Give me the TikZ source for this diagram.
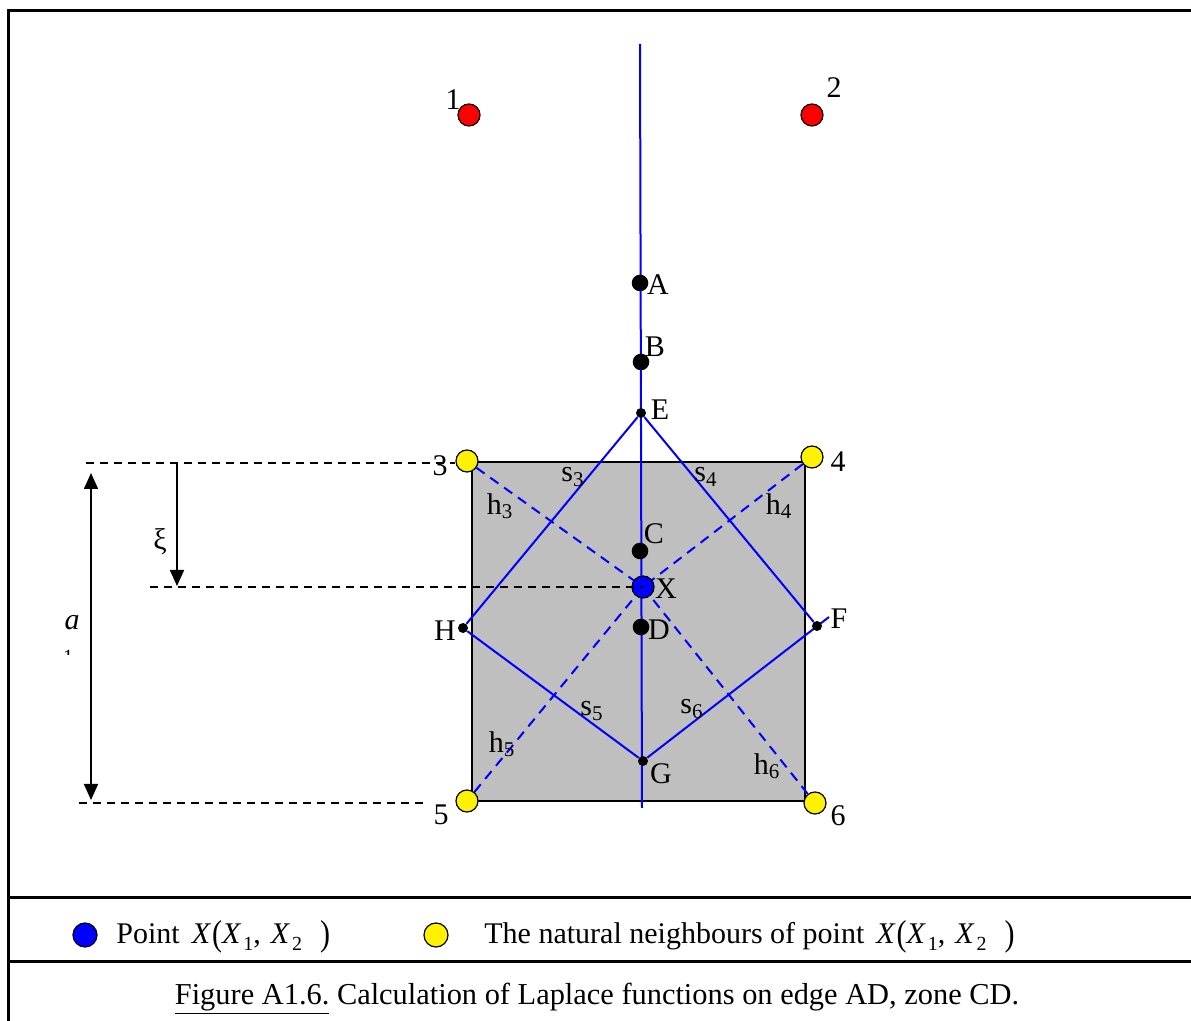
\documentclass[tikz,border=0pt]{standalone}
\usepackage{fontspec}
\setmainfont{Liberation Serif}
\usetikzlibrary{arrows.meta,backgrounds}

\newcommand{\subidx}[1]{\kern1pt\raisebox{-0.5ex}{\fontsize{10}{12}\selectfont #1}}
\newcommand{\tallp}[1]{\raisebox{-0.15ex}{\scalebox{1}[1.2]{#1}}}
\newcommand{\ptX}{\kern6pt\textit{X}\kern0.5pt\tallp{(}\textit{X}\subidx{1},\kern5pt\textit{X}\subidx{2}\kern9pt\tallp{)}}

\begin{document}
\begin{tikzpicture}[x=0.5pt, y=-0.5pt, font=\fontsize{15}{18}\selectfont,
  dot/.style={circle, draw=black, line width=0.6pt, inner sep=0pt, minimum size=11pt},
  reddot/.style={dot, fill=red},
  yellowdot/.style={dot, fill=yellow},
  bluedot/.style={dot, fill=blue},
  bigdot/.style={circle, fill=black, inner sep=0pt, minimum size=8.3pt},
  smalldot/.style={circle, fill=black, inner sep=0pt, minimum size=5pt},
  edge/.style={blue, line width=1pt},
  diag/.style={blue, line width=1pt, dash pattern=on 5pt off 3.5pt},
  guide/.style={line width=0.7pt, dash pattern=on 4pt off 3pt},
  dim/.style={line width=0.8pt},
  lbl/.style={inner sep=0pt}]

  \useasboundingbox (0,0) rectangle (1191,1021);

  % --- frame ---
  \draw[line width=1.5pt] (8,1021) -- (8,11) -- (1191,11);
  \draw[line width=1.5pt] (8,898) -- (1191,898);
  \draw[line width=1.5pt] (8,962) -- (1191,962);

  % --- points ---
  \node[reddot] (n1) at (469,115) {};
  \node[reddot] (n2) at (812,115) {};
  \node[yellowdot] (n3) at (467,461) {};
  \node[yellowdot] (n4) at (812,457) {};
  \node[yellowdot] (n5) at (467,801) {};
  \node[yellowdot] (n6) at (815,803) {};

  \node[bigdot] (A) at (640,283) {};
  \node[bigdot] (B) at (641,362) {};
  \node[smalldot] (E) at (641,413) {};
  \node[bigdot] (C) at (640,551) {};
  \node[bluedot] (X) at (643,587) {};
  \node[bigdot] (D) at (641,627) {};
  \node[smalldot] (H) at (463,628) {};
  \node[smalldot] (F) at (817,626) {};
  \node[smalldot] (G) at (643,761) {};

  \coordinate (top) at (640,44);
  \coordinate (bot) at (642,808);
  \coordinate (Fend) at (829,617);

  % --- labels ---
  \node[lbl] (l1) at (453,100) {1};
  \node[lbl] (l2) at (834,88) {2};
  \node[lbl] (l3) at (440,466) {3};
  \node[lbl] (l4) at (838,462) {4};
  \node[lbl] (l5) at (441,815) {5};
  \node[lbl] (l6) at (838,816) {6};
  \node[lbl] (lA) at (658,285) {A};
  \node[lbl] (lB) at (655,347) {B};
  \node[lbl] (lE) at (660,410) {E};
  \node[lbl] (lC) at (654,534) {C};
  \node[lbl] (lX) at (666,589) {X};
  \node[lbl] (lD) at (659,630) {D};
  \node[lbl] (lH) at (445,631) {H};
  \node[lbl] (lF) at (839,619) {F};
  \node[lbl] (lG) at (661,774) {G};

  \node[lbl] (s3) at (573,477) {s\textsubscript{3}};
  \node[lbl] (s4) at (706,477) {s\textsubscript{4}};
  \node[lbl] (h3) at (500,506) {h\textsubscript{3}};
  \node[lbl] (h4) at (779,506) {h\textsubscript{4}};
  \node[lbl] (s5) at (592,711) {s\textsubscript{5}};
  \node[lbl] (s6) at (692,709) {s\textsubscript{6}};
  \node[lbl] (h5) at (502,744) {h\textsubscript{5}};
  \node[lbl] (h6) at (767,766) {h\textsubscript{6}};

  % --- dimensions ---
  \coordinate (g3a) at (86,463);
  \coordinate (g3b) at (455,463);
  \coordinate (gXa) at (150,587);
  \coordinate (g5a) at (79,803);
  \coordinate (g5b) at (425,803);
  \draw[guide] (g3a) -- (g3b);
  \draw[guide] (gXa) -- (X.center);
  \draw[guide] (g5a) -- (g5b);

  \coordinate (atop) at (91,473);
  \coordinate (abot) at (91,800);
  \draw[dim, {Triangle[width=7pt,length=8pt]}-{Triangle[width=7pt,length=8pt]}] (atop) -- (abot);
  \coordinate (xitop) at (177,462);
  \coordinate (xibot) at (177,586);
  \draw[dim, -{Triangle[width=7pt,length=8pt]}] (xitop) -- (xibot);

  \node[lbl] (xi) at (160,542) {ξ};
  \node[lbl] (la) at (72,623) {\textit{a}};
  \begin{scope}
    \clip (55,640) rectangle (85,655);
    \node[lbl, font=\fontsize{10}{12}\selectfont] (la1) at (68,657) {1};
  \end{scope}

  % --- zone and edges, under the points ---
  \begin{scope}[on background layer]
    \draw[fill=black!25, line width=1pt] (472,462) rectangle (805,801);
    \draw[edge] (top) -- (bot);
    \draw[edge] (E) -- (H) -- (G) -- (Fend);
    \draw[edge] (E) -- (F);
    \draw[diag] (n3) -- (X.center);
    \draw[diag] (n4) -- (X.center);
    \draw[diag] (n5) -- (X.center);
    \draw[diag] (n6) -- (X.center);
  \end{scope}

  % --- legend ---
  \node[bluedot, minimum height=12pt] (kX) at (85,935) {};
  \node[lbl, anchor=west] (kXt) at (116,937) {Point\ptX};
  \node[yellowdot, minimum height=12pt] (kN) at (436,935) {};
  \node[lbl, anchor=west] (kNt) at (484,937) {The natural neighbours of point\ptX};

  \node[lbl, font=\fontsize{15.2}{18}\selectfont] (cap) at (597,999)
    {\underline{Figure A1.6.} Calculation of Laplace functions on edge AD, zone CD.};

\end{tikzpicture}
\end{document}
